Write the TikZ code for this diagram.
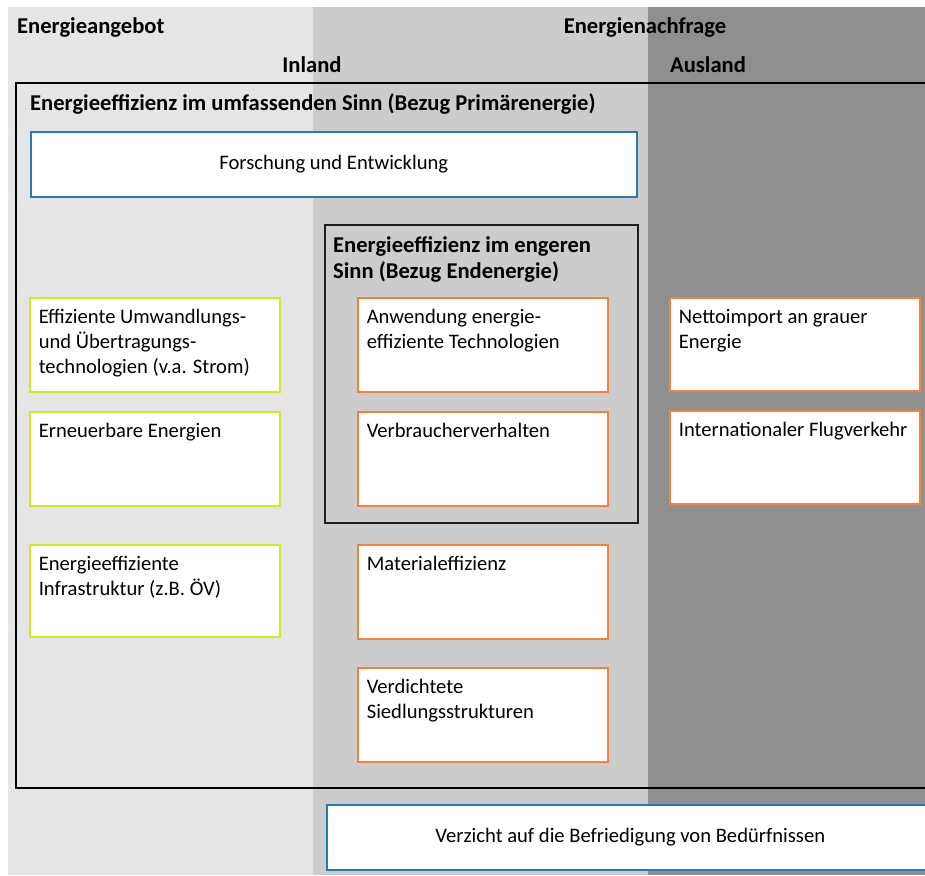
\documentclass[tikz,border=0pt]{standalone}
\usepackage{fontspec}
\setmainfont{Carlito}
\definecolor{bgA}{RGB}{229,229,229}
\definecolor{bgB}{RGB}{204,204,204}
\definecolor{bgC}{RGB}{143,143,143}
\definecolor{limeb}{RGB}{208,232,40}
\definecolor{orangeb}{RGB}{244,130,58}
\definecolor{blueb}{RGB}{40,122,172}
\definecolor{darkline}{RGB}{30,30,30}
\newcommand{\bxt}[3]{\vbox to #1{\hsize=#2\parindent=0pt\raggedright\baselineskip=25pt\vskip8.5pt\strut #3\vfil}}
\tikzset{
  x=1pt, y=-1pt,
  hdr/.style={font=\bfseries\fontsize{22.6}{26}\selectfont, inner sep=0pt, anchor=base west},
  txtbox/.style={fill=white, line width=1.6pt, anchor=north west, inner xsep=9pt, inner ysep=0pt,
     font=\fontsize{20.6}{25}\selectfont},
  gbox/.style={txtbox, draw=limeb},
  obox/.style={txtbox, draw=orangeb},
  bbox/.style={draw=blueb, fill=white, line width=1.6pt, anchor=north west, inner sep=0pt,
     font=\fontsize{20.6}{25}\selectfont},
  frame/.style={draw=black, line width=2.2pt, anchor=north west, inner sep=0pt},
  innerframe/.style={draw=darkline, line width=1.5pt, anchor=north west, inner sep=0pt}
}
\begin{document}
\begin{tikzpicture}
\useasboundingbox (0,0) rectangle (925,875);
% background bands
\fill[white] (0,0) rectangle (925,875);
\fill[bgA] (8,7) rectangle (313,875);
\fill[bgB] (313,7) rectangle (648,875);
\fill[bgC] (648,7) rectangle (925,875);
% headers
\node[hdr] (angebot) at (17,34) {Energieangebot};
\node[hdr, anchor=base] (nachfrage) at (645,34) {Energienachfrage};
\node[hdr, anchor=base] (inland) at (312,72) {Inland};
\node[hdr, anchor=base] (ausland) at (708,72) {Ausland};
% outer frame
\node[frame, minimum width=930pt, minimum height=705pt] (umf) at (15,82) {};
\node[hdr] (umfT) at (30,110) {Energieeffizienz im umfassenden Sinn (Bezug Primärenergie)};
% research box
\node[bbox, minimum width=606pt, minimum height=65pt] (fue) at (30,131) {Forschung und Entwicklung};
% inner frame
\node[innerframe, minimum width=313pt, minimum height=298pt] (eng) at (324,224) {};
\node[hdr, anchor=north west, align=left, font=\bfseries\fontsize{22.6}{26}\selectfont] (engT) at (333,236) {Energieeffizienz im engeren\\Sinn (Bezug Endenergie)};
% left column
\node[gbox] (umw) at (29,297) {\bxt{94pt}{232pt}{Effiziente Umwandlungs-\\und Übertragungs-\\technologien (v.a. Strom)}};
\node[gbox] (ern) at (29,411) {\bxt{94pt}{232pt}{Erneuerbare Energien}};
\node[gbox] (inf) at (29,544) {\bxt{92pt}{232pt}{Energieeffiziente\\Infrastruktur (z.B. ÖV)}};
% middle column
\node[obox] (anw) at (357,297) {\bxt{94pt}{232pt}{Anwendung energie-\\effiziente Technologien}};
\node[obox] (vbv) at (357,411) {\bxt{94pt}{232pt}{Verbraucherverhalten}};
\node[obox] (mat) at (357,544) {\bxt{94pt}{232pt}{Materialeffizienz}};
\node[obox] (sied) at (357,667) {\bxt{94pt}{232pt}{Verdichtete\\Siedlungsstrukturen}};
% right column
\node[obox] (netto) at (669,297) {\bxt{93pt}{232pt}{Nettoimport an grauer\\Energie}};
\node[obox] (flug) at (669,410) {\bxt{93pt}{232pt}{Internationaler Flugverkehr}};
% bottom box
\node[bbox, minimum width=607pt, minimum height=65pt] (verz) at (326,804) {Verzicht auf die Befriedigung von Bedürfnissen};
\end{tikzpicture}
\end{document}
